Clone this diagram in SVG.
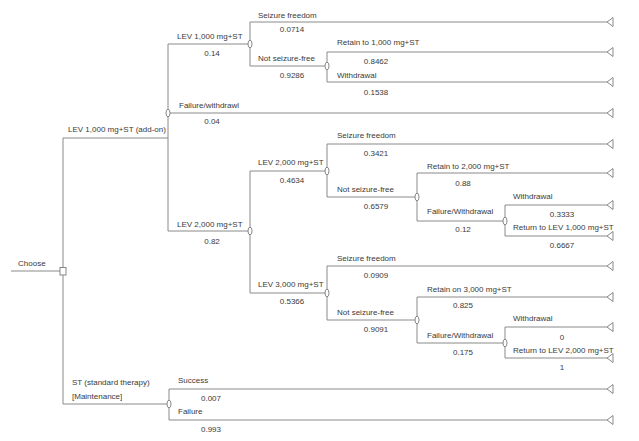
<svg xmlns="http://www.w3.org/2000/svg" width="639" height="441" viewBox="0 0 639 441">
<style>
.c{fill:none;stroke:#8a8a8a;stroke-width:1}
.n{fill:#fff;stroke:#7a7a7a;stroke-width:0.9}
.t{font-family:"Liberation Sans",Arial,sans-serif;font-size:8px;fill:#3a3a3a}
.p{font-family:"Liberation Sans",Arial,sans-serif;font-size:8px;fill:#3a3a3a;text-anchor:middle}
</style>
<defs>
<ellipse id="ch" cx="0" cy="0" rx="2" ry="3.8" class="n"/>
<path id="tm" d="M0,0 L6,-4.5 L6,4.5 Z" class="n"/>
</defs>
<rect width="639" height="441" fill="#fff"/>
<g id="connectors">
<path class="c" d="M11,271 H60"/>
<path class="c" d="M63,271 V138 H168"/>
<path class="c" d="M63,271 V404 H169"/>
<path class="c" d="M168,113 V44 H250"/>
<path class="c" d="M168,113 H607"/>
<path class="c" d="M168,113 V231 H250"/>
<path class="c" d="M250,44 V22 H607"/>
<path class="c" d="M250,44 V66 H327"/>
<path class="c" d="M327,66 V52 H607"/>
<path class="c" d="M327,66 V82 H607"/>
<path class="c" d="M250,231 V171 H327"/>
<path class="c" d="M250,231 V293 H327"/>
<path class="c" d="M327,171 V144 H607"/>
<path class="c" d="M327,171 V197 H417"/>
<path class="c" d="M417,197 V173 H607"/>
<path class="c" d="M417,197 V221 H505"/>
<path class="c" d="M505,221 V205 H607"/>
<path class="c" d="M505,221 V236 H607"/>
<path class="c" d="M327,293 V266 H607"/>
<path class="c" d="M327,293 V320 H417"/>
<path class="c" d="M417,320 V297 H607"/>
<path class="c" d="M417,320 V343 H505"/>
<path class="c" d="M505,343 V327 H607"/>
<path class="c" d="M505,343 V358 H607"/>
<path class="c" d="M169,404 V389 H607"/>
<path class="c" d="M169,404 V420 H607"/>
</g>
<g id="choose"><rect x="60" y="267.5" width="6" height="7.5" class="n"/><text class="t" x="18" y="266">Choose</text></g>
<g id="lev1000addon"><use href="#ch" x="168" y="113"/><text class="t" x="68" y="132">LEV 1,000 mg+ST (add-on)</text></g>
<g id="st"><use href="#ch" x="169" y="404"/><text class="t" x="72" y="385">ST (standard therapy)</text><text class="t" x="72" y="399">[Maintenance]</text></g>
<g id="lev1000"><use href="#ch" x="250" y="44"/><text class="t" x="177" y="39">LEV 1,000 mg+ST</text><text class="p" x="212" y="56">0.14</text></g>
<g id="failwithdrawl"><use href="#tm" x="607" y="113"/><text class="t" x="179" y="108">Failure/withdrawl</text><text class="p" x="212" y="124">0.04</text></g>
<g id="lev2000a"><use href="#ch" x="250" y="231"/><text class="t" x="177" y="227">LEV 2,000 mg+ST</text><text class="p" x="212" y="244">0.82</text></g>
<g id="sf1"><use href="#tm" x="607" y="22"/><text class="t" x="258" y="18">Seizure freedom</text><text class="p" x="292" y="32">0.0714</text></g>
<g id="nsf1"><use href="#ch" x="327" y="66"/><text class="t" x="258" y="61">Not seizure-free</text><text class="p" x="292" y="78">0.9286</text></g>
<g id="retain1000"><use href="#tm" x="607" y="52"/><text class="t" x="337" y="45">Retain to 1,000 mg+ST</text><text class="p" x="376" y="64">0.8462</text></g>
<g id="withdrawal1"><use href="#tm" x="607" y="82"/><text class="t" x="337" y="78">Withdrawal</text><text class="p" x="376" y="95">0.1538</text></g>
<g id="lev2000b"><use href="#ch" x="327" y="171"/><text class="t" x="258" y="165">LEV 2,000 mg+ST</text><text class="p" x="292" y="183">0.4634</text></g>
<g id="lev3000"><use href="#ch" x="327" y="293"/><text class="t" x="258" y="287">LEV 3,000 mg+ST</text><text class="p" x="292" y="304">0.5366</text></g>
<g id="sf2"><use href="#tm" x="607" y="144"/><text class="t" x="337" y="138">Seizure freedom</text><text class="p" x="376" y="156">0.3421</text></g>
<g id="nsf2"><use href="#ch" x="417" y="197"/><text class="t" x="337" y="192">Not seizure-free</text><text class="p" x="376" y="209">0.6579</text></g>
<g id="retain2000"><use href="#tm" x="607" y="173"/><text class="t" x="427" y="169">Retain to 2,000 mg+ST</text><text class="p" x="463" y="186">0.88</text></g>
<g id="failw2"><use href="#ch" x="505" y="221"/><text class="t" x="427" y="214">Failure/Withdrawal</text><text class="p" x="463" y="232">0.12</text></g>
<g id="withdrawal2"><use href="#tm" x="607" y="205"/><text class="t" x="513" y="199">Withdrawal</text><text class="p" x="562" y="217">0.3333</text></g>
<g id="return1000"><use href="#tm" x="607" y="236"/><text class="t" x="513" y="230">Return to LEV 1,000 mg+ST</text><text class="p" x="562" y="248">0.6667</text></g>
<g id="sf3"><use href="#tm" x="607" y="266"/><text class="t" x="337" y="261">Seizure freedom</text><text class="p" x="376" y="278">0.0909</text></g>
<g id="nsf3"><use href="#ch" x="417" y="320"/><text class="t" x="337" y="315">Not seizure-free</text><text class="p" x="376" y="332">0.9091</text></g>
<g id="retain3000"><use href="#tm" x="607" y="297"/><text class="t" x="427" y="292">Retain on 3,000 mg+ST</text><text class="p" x="463" y="308">0.825</text></g>
<g id="failw3"><use href="#ch" x="505" y="343"/><text class="t" x="427" y="338">Failure/Withdrawal</text><text class="p" x="463" y="355">0.175</text></g>
<g id="withdrawal3"><use href="#tm" x="607" y="327"/><text class="t" x="513" y="321">Withdrawal</text><text class="p" x="562" y="340">0</text></g>
<g id="return2000"><use href="#tm" x="607" y="358"/><text class="t" x="513" y="353">Return to LEV 2,000 mg+ST</text><text class="p" x="562" y="370">1</text></g>
<g id="success"><use href="#tm" x="607" y="389"/><text class="t" x="178" y="383">Success</text><text class="p" x="211" y="401">0.007</text></g>
<g id="failure"><use href="#tm" x="607" y="420"/><text class="t" x="178" y="414">Failure</text><text class="p" x="211" y="432">0.993</text></g>
</svg>
